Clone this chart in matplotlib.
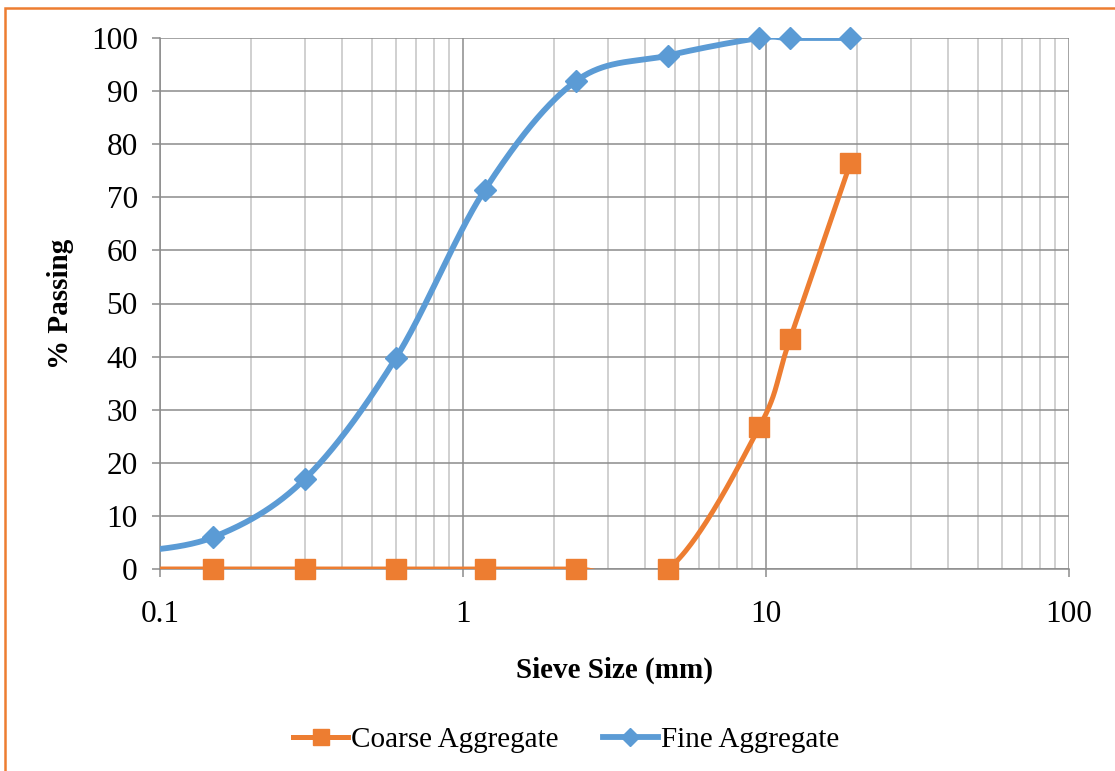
import numpy as np
import matplotlib.pyplot as plt
from matplotlib.lines import Line2D
from matplotlib.patches import Rectangle
from matplotlib.ticker import FixedLocator, NullFormatter

plt.rcParams['font.family'] = ['Liberation Serif', 'DejaVu Serif']

# Sieve sizes (mm) and percent passing
sieve = [0.075, 0.15, 0.3, 0.6, 1.18, 2.36, 4.75, 9.5, 12.0, 19.0]
fine_pass = [3.0, 6.0, 16.9, 39.7, 71.4, 91.9, 96.7, 100.0, 100.0, 100.0]
coarse_pass = [0.0, 0.0, 0.0, 0.0, 0.0, 0.0, 0.0, 26.7, 43.3, 76.5]

x_ticks = [0.1, 1, 10, 100]
x_ticklabels = ['0.1', '1', '10', '100']
y_ticks = list(range(0, 101, 10))

ORANGE = '#ED7D31'
BLUE = '#5B9BD5'


def smooth(xs, ys, n=60):
    # Bezier smoothing in (log x, y) space, like a spreadsheet "smoothed line"
    px = np.log10(np.asarray(xs, float))
    py = np.asarray(ys, float)
    P = np.column_stack([px, py])
    out = []
    for i in range(len(P) - 1):
        p0 = P[i - 1] if i > 0 else P[i]
        p1, p2 = P[i], P[i + 1]
        p3 = P[i + 2] if i + 2 < len(P) else P[i + 1]
        c1 = p1 + (p2 - p0) / 6
        c2 = p2 - (p3 - p1) / 6
        t = np.linspace(0, 1, n)[:, None]
        seg = ((1 - t) ** 3) * p1 + 3 * ((1 - t) ** 2) * t * c1 + 3 * (1 - t) * t ** 2 * c2 + t ** 3 * p2
        out.append(seg if i == 0 else seg[1:])
    out = np.vstack(out)
    return 10 ** out[:, 0], out[:, 1]


fig = plt.figure(figsize=(11.15, 7.71), dpi=100)
ax = fig.add_axes([160 / 1115, 1 - 569 / 771, (1069 - 160) / 1115, (569 - 38) / 771])

ax.set_xscale('log')
ax.set_xlim(0.1, 100)
ax.set_ylim(0, 100)

ax.xaxis.set_major_locator(FixedLocator(x_ticks))
ax.set_xticklabels(x_ticklabels)
minor = [m * 10.0 ** e for e in (-1, 0, 1) for m in range(2, 10)]
ax.xaxis.set_minor_locator(FixedLocator(minor))
ax.xaxis.set_minor_formatter(NullFormatter())
ax.set_yticks(y_ticks)

ax.grid(True, which='major', color='#8C8C8C', linewidth=1.1)
ax.grid(True, which='minor', axis='x', color='#C4C4C4', linewidth=1.1)
ax.set_axisbelow(True)

for side in ('top', 'right'):
    ax.spines[side].set_visible(False)
for side in ('left', 'bottom'):
    ax.spines[side].set_color('#8C8C8C')
    ax.spines[side].set_linewidth(1.1)

ax.tick_params(axis='both', which='major', length=6, width=1.1, color='#8C8C8C',
               labelsize=22.5, direction='out')
ax.tick_params(axis='y', pad=10)
ax.tick_params(axis='x', pad=16)
ax.tick_params(axis='x', which='minor', length=0)

# Smoothed curves, clipped to the plot area
cx, cy = smooth(sieve, coarse_pass)
fx, fy = smooth(sieve, fine_pass)
ax.plot(cx, cy, color=ORANGE, linewidth=3.6, solid_capstyle='butt', zorder=3)
ax.plot(fx, fy, color=BLUE, linewidth=4.2, solid_capstyle='butt', zorder=4)

# Markers only for sieves inside the axis range
shown = [i for i, s in enumerate(sieve) if s >= 0.1]
ax.plot([sieve[i] for i in shown], [coarse_pass[i] for i in shown], linestyle='none',
        marker='s', markersize=14.5, color=ORANGE, clip_on=False, zorder=5)
ax.plot([sieve[i] for i in shown], [fine_pass[i] for i in shown], linestyle='none',
        marker='D', markersize=11, color=BLUE, clip_on=False, zorder=6)

ax.set_xlabel('Sieve Size (mm)', fontsize=21, fontweight='bold', labelpad=20)
ax.set_ylabel('% Passing', fontsize=21, fontweight='bold', labelpad=12)

handles = [
    Line2D([], [], color=ORANGE, linewidth=3.6, marker='s', markersize=11.5),
    Line2D([], [], color=BLUE, linewidth=4.2, marker='D', markersize=9.5),
]
fig.legend(handles, ['Coarse Aggregate', 'Fine Aggregate'], loc='center',
           bbox_to_anchor=(566 / 1115, 1 - 740 / 771), ncol=2, frameon=False,
           fontsize=21, handlelength=1.9, handletextpad=0.1, columnspacing=1.5)

# Orange frame around the chart area
fig.patches.append(Rectangle((5 / 1115, -0.05), 1.2, 1 - 8 / 771 + 0.05,
                             transform=fig.transFigure, fill=False,
                             edgecolor=ORANGE, linewidth=1.8))

fig.savefig('out.png', dpi=100)
